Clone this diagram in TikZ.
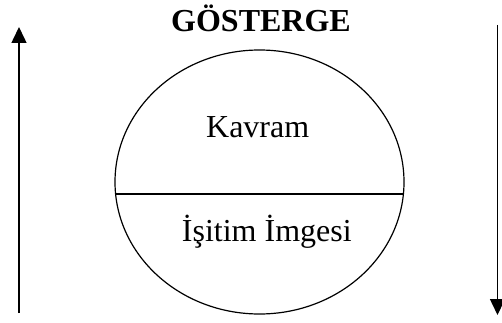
\documentclass[tikz,border=0pt]{standalone}
\usepackage{fontspec}
\setmainfont{Liberation Serif}
\usepackage{xcolor}
\usetikzlibrary{shapes.geometric,arrows.meta,calc}

\begin{document}
\begin{tikzpicture}[x=1pt,y=1pt,
  sign/.style={ellipse,draw=black,line width=1.2pt,minimum width=289pt,
    minimum height=264pt,inner sep=0pt},
  lbl/.style={anchor=base,inner sep=0pt,font=\fontsize{32}{38}\selectfont},
  title/.style={anchor=base,inner sep=0pt,font=\fontsize{32}{38}\selectfont\bfseries},
  split/.style={line width=1.2pt},
  flow/.style={-{Triangle[length=16pt,width=15pt]},line width=1.5pt}]
  \useasboundingbox (0,0) rectangle (502,322);
  \node[title] (gosterge) at (261,290) {GÖSTERGE};
  \node[sign] (ell) at (259.5,140) {};
  \draw[split] ($(ell.center)+(-143.9,-12)$) -- ($(ell.center)+(143.9,-12)$);
  \node[lbl] (kavram) at (257.7,185) {Kavram};
  \node[lbl] (imge) at (266.8,81) {İşitim İmgesi};
  % arrows at the sides
  \coordinate (upbot) at (19,9);
  \coordinate (uptop) at (19,295);
  \coordinate (dntop) at (497.5,297);
  \coordinate (dnbot) at (497.5,7);
  \draw[flow] (upbot) -- (uptop);
  \draw[flow] (dntop) -- (dnbot);
\end{tikzpicture}
\end{document}
